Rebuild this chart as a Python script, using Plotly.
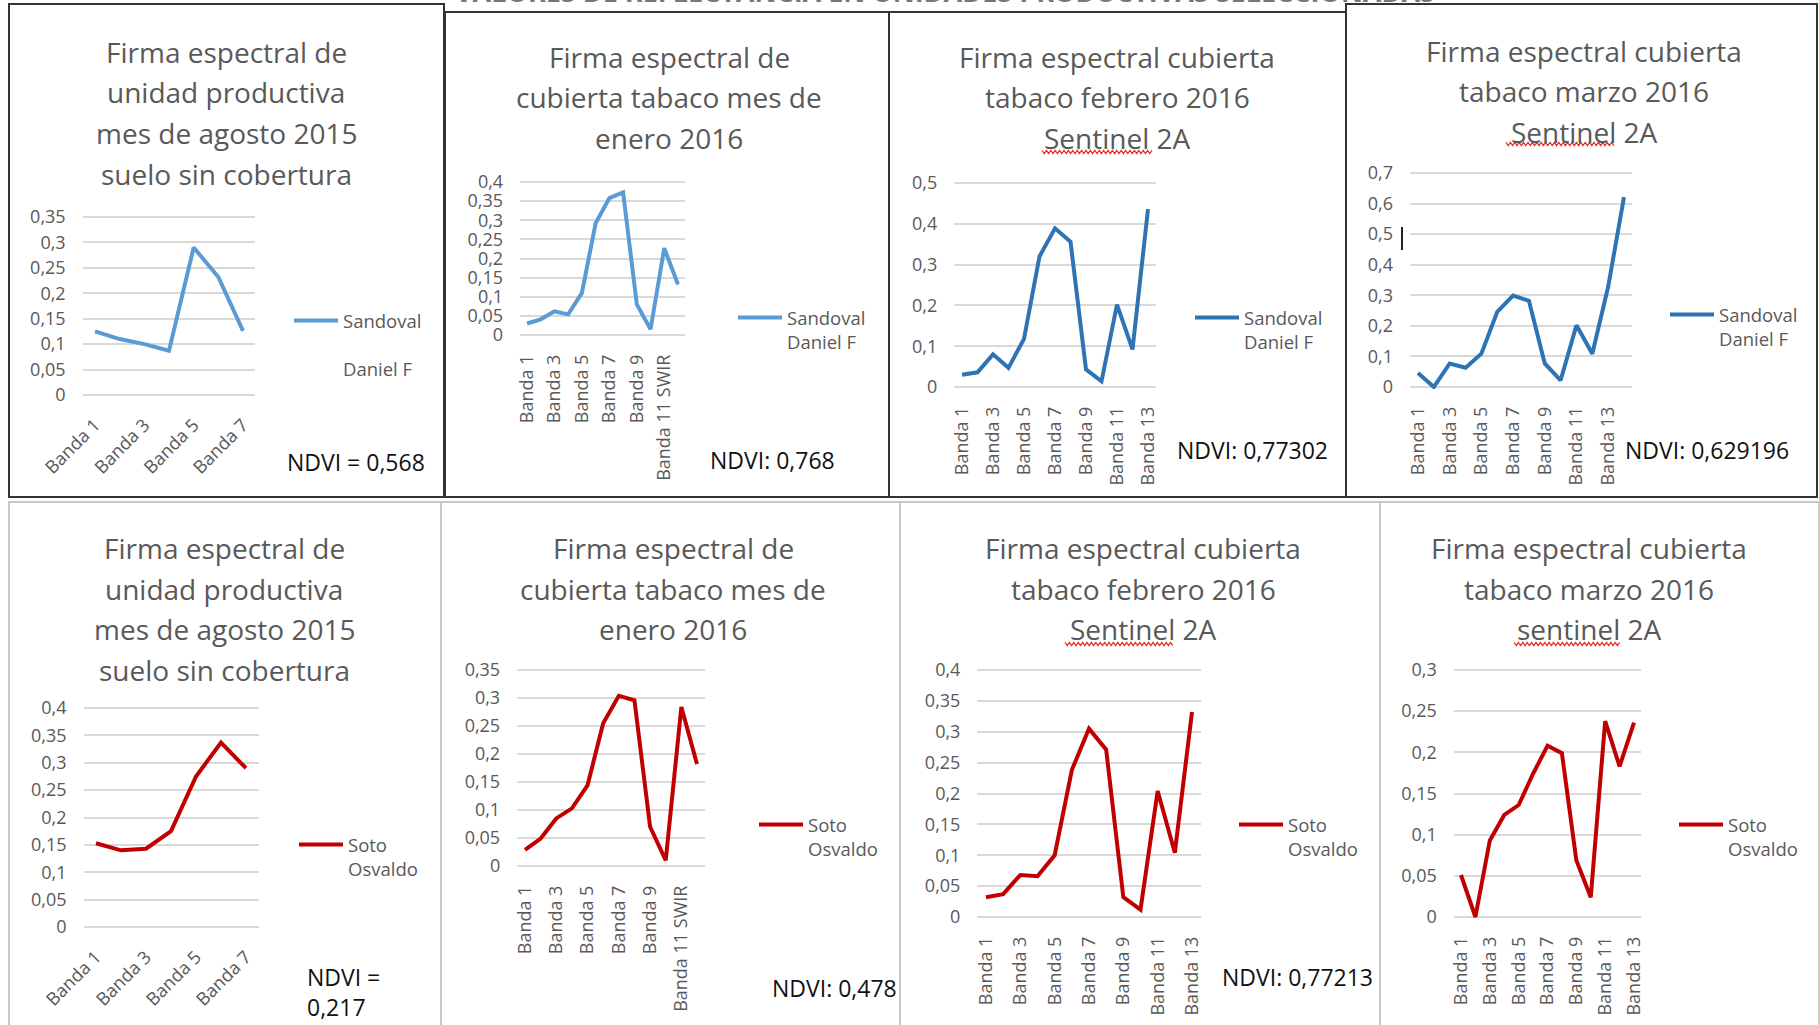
import plotly.graph_objects as go

W, H = 1819, 1025

# ---------------- categories (spectral bands) ----------------
BANDAS_7 = ["Banda 1", "Banda 2", "Banda 3", "Banda 4", "Banda 5", "Banda 6", "Banda 7"]
BANDAS_12_SWIR = ["Banda 1", "Banda 2", "Banda 3", "Banda 4", "Banda 5", "Banda 6",
                  "Banda 7", "Banda 8", "Banda 9", "Banda 10", "Banda 11 SWIR", "Banda 12"]
BANDAS_13 = ["Banda 1", "Banda 2", "Banda 3", "Banda 4", "Banda 5", "Banda 6", "Banda 7",
             "Banda 8", "Banda 9", "Banda 10", "Banda 11", "Banda 12", "Banda 13"]
BANDAS_14 = ["Banda 1", "Banda 2", "Banda 3", "Banda 4", "Banda 5", "Banda 6", "Banda 7",
             "Banda 8", "Banda 9", "Banda 10", "Banda 11", "Banda 12", "Banda 13", "Banda 14"]

# ---------------- reflectance values ----------------
SANDOVAL_AGO_2015 = [0.125, 0.110, 0.100, 0.087, 0.290, 0.232, 0.126]
SANDOVAL_ENE_2016 = [0.030, 0.041, 0.062, 0.054, 0.110, 0.292, 0.358, 0.373, 0.080, 0.015, 0.227, 0.132]
SANDOVAL_FEB_2016 = [0.030, 0.036, 0.080, 0.047, 0.118, 0.320, 0.389, 0.356, 0.043, 0.014, 0.202, 0.092, 0.436]
SANDOVAL_MAR_2016 = [0.046, 0.000, 0.077, 0.063, 0.109, 0.246, 0.299, 0.282, 0.077, 0.022, 0.202, 0.109, 0.328, 0.621]

SOTO_AGO_2015 = [0.153, 0.140, 0.143, 0.175, 0.275, 0.337, 0.290]
SOTO_ENE_2016 = [0.029, 0.049, 0.085, 0.103, 0.144, 0.255, 0.304, 0.296, 0.070, 0.010, 0.284, 0.182]
SOTO_FEB_2016 = [0.032, 0.037, 0.068, 0.066, 0.100, 0.238, 0.305, 0.271, 0.032, 0.012, 0.204, 0.104, 0.332]
SOTO_MAR_2016 = [0.051, 0.000, 0.093, 0.124, 0.136, 0.174, 0.208, 0.199, 0.069, 0.024, 0.238, 0.183, 0.236]

# ---------------- y tick values ----------------
TICKS_035 = [0, 0.05, 0.1, 0.15, 0.2, 0.25, 0.3, 0.35]
TICKS_040 = [0, 0.05, 0.1, 0.15, 0.2, 0.25, 0.3, 0.35, 0.4]
TICKS_050 = [0, 0.1, 0.2, 0.3, 0.4, 0.5]
TICKS_070 = [0, 0.1, 0.2, 0.3, 0.4, 0.5, 0.6, 0.7]
TICKS_030 = [0, 0.05, 0.1, 0.15, 0.2, 0.25, 0.3]

# ---------------- texts ----------------
SANDOVAL = "Sandoval<br>Daniel F"
SANDOVAL_AMPLIO = "Sandoval<br><br>Daniel F"
SOTO = "Soto<br>Osvaldo"

TITULO_AGOSTO = ["Firma espectral de", "unidad productiva", "mes de agosto 2015", "suelo sin cobertura"]
TITULO_ENERO = ["Firma espectral de", "cubierta tabaco mes de", "enero 2016"]
TITULO_FEBRERO = ["Firma espectral cubierta", "tabaco febrero 2016", "Sentinel 2A"]
TITULO_MARZO = ["Firma espectral cubierta", "tabaco marzo 2016", "Sentinel 2A"]
TITULO_MARZO_B = ["Firma espectral cubierta", "tabaco marzo 2016", "sentinel 2A"]

NDVI_TEXTOS = ["NDVI = 0,568", "NDVI: 0,768", "NDVI: 0,77302", "NDVI: 0,629196",
               "NDVI =<br>0,217", "NDVI: 0,478", "NDVI: 0,77213", None]

ENCABEZADO = "VALORES DE REFLECTANCIA EN UNIDADES PRODUCTIVAS SELECCIONADAS"

# ---------------- styling ----------------
FONT = "Open Sans"
GRIS_TEXTO = "#595959"
GRID = "#D9D9D9"
AZUL_CLARO = "#5B9BD5"
AZUL = "#2E74B5"
ROJO = "#C00000"
TICK_SIZE = 18
LEG_SIZE = 18.5
TITLE_SIZE = 28
NDVI_SIZE = 23
ITEM_W = 44

# panel geometry in pixels: box, title, plot area (first/last point x, y of max tick and of 0),
# legend text position, NDVI label position
PANELES = [
    dict(cats=BANDAS_7, vals=SANDOVAL_AGO_2015, name=SANDOVAL_AMPLIO, color=AZUL_CLARO, yticks=TICKS_035,
         title=TITULO_AGOSTO, box=(9, 4, 444, 497), dark=True, tcx=226, ty0=52,
         first=95, last=243, ytop=217, yzero=395, angle=-45, leg=(343, 319), ndvi=(285, 462)),
    dict(cats=BANDAS_12_SWIR, vals=SANDOVAL_ENE_2016, name=SANDOVAL, color=AZUL_CLARO, yticks=TICKS_040,
         title=TITULO_ENERO, box=(445, 12, 889, 497), dark=True, tcx=669, ty0=57,
         first=527, last=678, ytop=182, yzero=335, angle=-90, leg=(787, 316), ndvi=(708, 460)),
    dict(cats=BANDAS_13, vals=SANDOVAL_FEB_2016, name=SANDOVAL, color=AZUL, yticks=TICKS_050,
         title=TITULO_FEBRERO, box=(889, 12, 1346, 497), dark=True, tcx=1117, ty0=57,
         first=962, last=1148, ytop=183, yzero=387, angle=-90, leg=(1244, 316), ndvi=(1175, 450)),
    dict(cats=BANDAS_14, vals=SANDOVAL_MAR_2016, name=SANDOVAL, color=AZUL, yticks=TICKS_070,
         title=TITULO_MARZO, box=(1346, 4, 1817, 497), dark=True, tcx=1584, ty0=51,
         first=1418, last=1624, ytop=173, yzero=387, angle=-90, leg=(1719, 313), ndvi=(1623, 450)),
    dict(cats=BANDAS_7, vals=SOTO_AGO_2015, name=SOTO, color=ROJO, yticks=TICKS_040,
         title=TITULO_AGOSTO, box=(9, 502, 441, 1030), dark=False, tcx=224, ty0=548,
         first=96, last=246, ytop=708, yzero=927, angle=-45, leg=(348, 843), ndvi=(305, 992)),
    dict(cats=BANDAS_12_SWIR, vals=SOTO_ENE_2016, name=SOTO, color=ROJO, yticks=TICKS_035,
         title=TITULO_ENERO, box=(441, 502, 900, 1030), dark=False, tcx=673, ty0=548,
         first=525, last=697, ytop=670, yzero=866, angle=-90, leg=(808, 823), ndvi=(770, 988)),
    dict(cats=BANDAS_13, vals=SOTO_FEB_2016, name=SOTO, color=ROJO, yticks=TICKS_040,
         title=TITULO_FEBRERO, box=(900, 502, 1380, 1030), dark=False, tcx=1143, ty0=548,
         first=986, last=1192, ytop=670, yzero=917, angle=-90, leg=(1288, 823), ndvi=(1220, 977)),
    dict(cats=BANDAS_13, vals=SOTO_MAR_2016, name=SOTO, color=ROJO, yticks=TICKS_030,
         title=TITULO_MARZO_B, box=(1380, 502, 1819, 1030), dark=False, tcx=1589, ty0=548,
         first=1461, last=1634, ytop=670, yzero=917, angle=-90, leg=(1728, 823), ndvi=None),
]

# red spell-check squiggles under "Sentinel" (x start, x end, y)
SUBRAYADOS = [(1042, 1153, 152), (1506, 1615, 144), (1065, 1173, 644), (1514, 1621, 644)]

TITLE_STEP = 40.5


def fx(px):
    return px / W


def fy(py):
    return 1 - py / H


def coma(v):
    return ("%g" % v).replace(".", ",")


fig = go.Figure()
ejes = {}
leyendas = {}
shapes = []
annotations = []

for i, p in enumerate(PANELES, start=1):
    sfx = "" if i == 1 else str(i)
    cats = p["cats"]
    n = len(cats)
    slot = (p["last"] - p["first"]) / (n - 1)
    x0, x1 = p["first"] - slot / 2, p["last"] + slot / 2
    ymax = p["yticks"][-1]
    upp = ymax / (p["yzero"] - p["ytop"])
    pad = 2

    tickfont = dict(family=FONT, size=TICK_SIZE, color=GRIS_TEXTO)
    ejes["xaxis" + sfx] = dict(
        domain=[fx(x0), fx(x1)], anchor="y" + sfx, type="category",
        categoryorder="array", categoryarray=cats, range=[-0.5, n - 0.5],
        showgrid=False, zeroline=False, showline=False, ticks="",
        tickmode="array", tickvals=cats[::2], tickangle=p["angle"],
        tickfont=tickfont, ticklabelstandoff=13, automargin=False, fixedrange=True)
    ejes["yaxis" + sfx] = dict(
        domain=[fy(p["yzero"] + pad), fy(p["ytop"] - pad)], anchor="x" + sfx,
        range=[-pad * upp, ymax + pad * upp],
        tickmode="array", tickvals=p["yticks"], ticktext=[coma(v) for v in p["yticks"]],
        showgrid=True, gridcolor=GRID, gridwidth=1.5, zeroline=False, showline=False,
        ticks="", tickfont=tickfont, ticklabelstandoff=16, automargin=False, fixedrange=True)

    leg = "legend" if i == 1 else "legend" + str(i)
    fig.add_trace(go.Scatter(
        x=cats, y=p["vals"], mode="lines", name=p["name"],
        line=dict(color=p["color"], width=4),
        xaxis="x" + sfx, yaxis="y" + sfx, legend=leg, showlegend=True,
        hovertemplate="%{x}: %{y}<extra></extra>"))
    lx, ly = p["leg"]
    leyendas[leg] = dict(
        x=fx(lx - ITEM_W - 10), y=fy(ly - 17), xanchor="left", yanchor="top",
        bgcolor="rgba(0,0,0,0)", borderwidth=0, valign="top", itemwidth=ITEM_W,
        font=dict(family=FONT, size=LEG_SIZE, color=GRIS_TEXTO))

    # panel frame
    bx0, by0, bx1, by1 = p["box"]
    shapes.append(dict(
        type="rect", xref="paper", yref="paper",
        x0=fx(bx0), x1=fx(bx1), y0=fy(by1), y1=fy(by0),
        line=dict(color="#333333" if p["dark"] else "#C8C8C8", width=2),
        fillcolor="rgba(0,0,0,0)", layer="below"))

    # title lines
    for j, linea in enumerate(p["title"]):
        annotations.append(dict(
            text=linea, x=fx(p["tcx"]), y=fy(p["ty0"] + j * TITLE_STEP),
            xref="paper", yref="paper", xanchor="center", yanchor="middle",
            showarrow=False, font=dict(family=FONT, size=TITLE_SIZE, color=GRIS_TEXTO)))

    # NDVI label
    if NDVI_TEXTOS[i - 1] and p["ndvi"]:
        nx, ny = p["ndvi"]
        annotations.append(dict(
            text=NDVI_TEXTOS[i - 1], x=fx(nx), y=fy(ny), xref="paper", yref="paper",
            xanchor="left", yanchor="middle", align="left", showarrow=False,
            font=dict(family=FONT, size=NDVI_SIZE, color="#111111")))

# wavy red underlines
for xa, xb, yy in SUBRAYADOS:
    pts = []
    k = 0
    x = xa
    while x <= xb:
        pts.append((x, yy + (1.6 if k % 2 else -1.6)))
        x += 2.2
        k += 1
    path = "M " + " L ".join(f"{fx(a):.5f},{fy(b):.5f}" for a, b in pts)
    shapes.append(dict(type="path", xref="paper", yref="paper", path=path,
                       line=dict(color="#E8312F", width=1.2)))

# stray text cursor mark beside the March chart
shapes.append(dict(type="line", xref="paper", yref="paper",
                   x0=fx(1402), x1=fx(1402), y0=fy(250), y1=fy(227),
                   line=dict(color="#222222", width=2)))

# page heading, cut by the top edge
annotations.append(dict(
    text="<b>" + ENCABEZADO + "</b>", x=fx(945), y=1, xref="paper", yref="paper",
    xanchor="center", yanchor="bottom", yshift=-12, showarrow=False,
    font=dict(family=FONT, size=27, color="#777777")))

fig.update_layout(
    template="none",
    width=W, height=H,
    margin=dict(l=0, r=0, t=0, b=0),
    paper_bgcolor="white", plot_bgcolor="rgba(0,0,0,0)",
    separators=", ",
    font=dict(family=FONT, color=GRIS_TEXTO),
    showlegend=True,
    shapes=shapes, annotations=annotations,
    **ejes, **leyendas)

fig.write_html("out.html")
